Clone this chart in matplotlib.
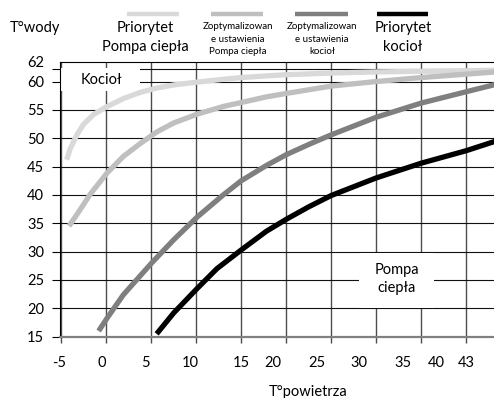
import matplotlib
matplotlib.use('Agg')
import matplotlib.pyplot as plt
from matplotlib.lines import Line2D
from matplotlib.patches import Rectangle

plt.rcParams['font.family'] = ['Lato', 'DejaVu Sans']

# curves (x = air temperature, y = water temperature)
hp_prio_x = [-4.4, -4.0, -3.2, -2.5, -1.4, 0.1, 1.9, 3.8, 5.6, 7.5, 10.1, 13.0, 15.0, 17.8,
             20.0, 25.0, 30.0, 35.0, 40.0, 43.3]
hp_prio_y = [46.2, 48.2, 50.8, 52.5, 54.2, 55.6, 57.0, 58.1, 58.85, 59.4, 59.9, 60.4, 60.7, 61.0,
             61.2, 61.5, 61.7, 61.8, 61.9, 62.0]

hp_opt_x = [-4.15, -3.2, -1.75, 0.1, 1.9, 3.8, 5.6, 7.5, 10.1, 13.0, 15.0, 17.8,
            20.0, 25.0, 30.0, 35.0, 40.0, 43.3]
hp_opt_y = [34.5, 36.7, 40.2, 43.9, 46.8, 49.1, 51.1, 52.7, 54.25, 55.6, 56.3, 57.3,
            57.9, 59.2, 60.0, 60.7, 61.3, 61.7]

boil_opt_x = [-0.85, 0.1, 1.9, 5.1, 7.5, 10.1, 13.0, 15.0, 17.8, 20.0, 22.5, 25.0,
              30.0, 35.0, 40.0, 43.3]
boil_opt_y = [16.0, 18.3, 22.4, 28.1, 32.1, 36.1, 40.0, 42.5, 45.2, 47.1, 48.9, 50.6,
              53.7, 56.2, 58.2, 59.5]

boil_prio_x = [5.6, 7.5, 10.1, 12.3, 15.0, 17.8, 20.0, 22.5, 25.0, 30.0, 35.0, 40.0, 43.3]
boil_prio_y = [15.5, 19.2, 23.5, 27.0, 30.3, 33.6, 35.7, 37.9, 39.9, 43.0, 45.6, 47.8, 49.5]

series_x = [hp_prio_x, hp_opt_x, boil_opt_x, boil_prio_x]
series_y = [hp_prio_y, hp_opt_y, boil_opt_y, boil_prio_y]
colors = ['#d9d9d9', '#bfbfbf', '#7f7f7f', '#000000']
legend_labels = ['Priorytet\nPompa ciepła',
                 'Zoptymalizowan\ne ustawienia\nPompa ciepła',
                 'Zoptymalizowan\ne ustawienia\nkocioł',
                 'Priorytet\nkocioł']

x_grid = [-5, 0, 5, 10, 15, 20, 25, 30, 35, 40]
x_labels = ['-5', '0', '5', '10', '15', '20', '25', '30', '35', '40', '43']
x_label_pos = [-5.2, -0.5, 4.4, 9.3, 15.0, 18.5, 23.4, 28.1, 33.0, 36.7, 40.0]
y_grid = [15, 20, 25, 30, 35, 40, 45, 50, 55, 60, 62.3]
y_labels = ['15', '20', '25', '30', '35', '40', '45', '50', '55', '60', '62']
y_label_pos = [15, 20, 25, 30, 35, 40, 45, 50, 55, 60, 63.5]

W, H = 494, 398
fig = plt.figure(figsize=(W / 100, H / 100), dpi=100)
ax = fig.add_axes([59.5 / W, 1 - 336.7 / H, (W - 59.5) / W, (336.7 - 61.7) / H])

for xs, ys, c in zip(series_x, series_y, colors):
    ax.plot(xs, ys, color=c, lw=3.8, solid_capstyle='butt', solid_joinstyle='round', zorder=3)

ax.set_xlim(-5, 43.1)
ax.set_ylim(15, 62.3)
ax.set_axisbelow(True)

ax.xaxis.remove_overlapping_locs = False
ax.yaxis.remove_overlapping_locs = False
ax.set_xticks(x_grid)
ax.set_xticks(x_label_pos, minor=True)
ax.set_xticklabels(x_labels, minor=True)
ax.set_yticks(y_grid)
ax.set_yticks(y_label_pos, minor=True)
ax.set_yticklabels(y_labels, minor=True)
ax.tick_params(which='major', labelbottom=False, labelleft=False)
ax.tick_params(axis='x', which='major', length=4.5, width=1.0, color='#4d4d4d', direction='out')
ax.tick_params(axis='y', which='major', length=6, width=0.8, color='black', direction='out')
ax.tick_params(which='minor', length=0, labelsize=10.5)
ax.tick_params(axis='x', which='minor', pad=14)
ax.tick_params(axis='y', which='minor', pad=11)

ax.grid(True, axis='x', which='major', color='#4d4d4d', lw=1.0)
ax.grid(True, axis='y', which='major', color='#111111', lw=0.8)

ax.spines['right'].set_visible(False)
ax.spines['left'].set_color('black')
ax.spines['left'].set_linewidth(0.8)
ax.spines['top'].set_color('black')
ax.spines['top'].set_linewidth(0.8)
ax.spines['bottom'].set_color('#808080')
ax.spines['bottom'].set_linewidth(1.6)

# white boxes with in-plot labels
ax.add_patch(Rectangle((-5, 58.4), 8.7, 4.0, fc='white', ec='none', zorder=1))
ax.text(-0.6, 60.3, 'Kocioł', fontsize=10.5, ha='center', va='center', zorder=2)
ax.add_patch(Rectangle((28.1, 20.1), 8.3, 9.7, fc='white', ec='none', zorder=1))
ax.text(32.3, 25.2, 'Pompa\nciepła', fontsize=10.5, ha='center', va='center',
        linespacing=1.4, zorder=2)

# legend on top, line sample above each label
leg_line_x = [(127, 179), (211, 263), (295, 348), (377, 428)]
leg_text_x = [145, 238, 322, 403]
leg_text_y = [37.5, 39, 39, 37.5]
leg_size = [10.5, 7, 7, 10.5]
for (x0, x1), tx, ty, fs, c, lab in zip(leg_line_x, leg_text_x, leg_text_y, leg_size, colors, legend_labels):
    fig.add_artist(Line2D([x0 / W, x1 / W], [1 - 13.5 / H, 1 - 13.5 / H], color=c, lw=3.2,
                          solid_capstyle='butt'))
    fig.text(tx / W, 1 - ty / H, lab, fontsize=fs, ha='center', va='center',
             linespacing=1.4 if fs > 8 else 1.45)

fig.text(35 / W, 1 - 28 / H, 'T°wody', fontsize=10.5, ha='center', va='center')
fig.text(308 / W, 1 - 392 / H, 'T°powietrza', fontsize=10.5, ha='center', va='center')

fig.savefig('out.png', dpi=100)
